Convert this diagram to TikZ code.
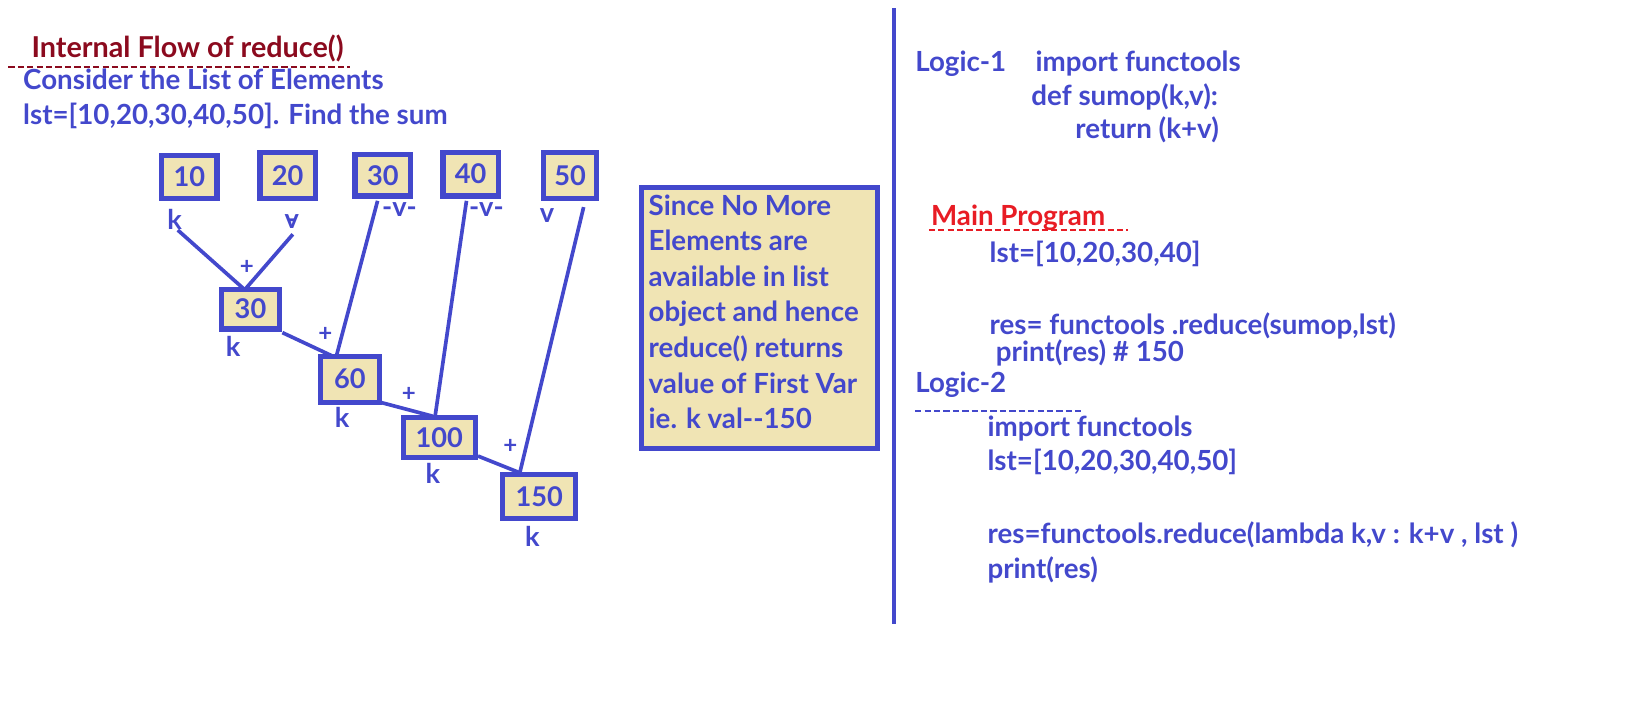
\documentclass[tikz,border=0pt]{standalone}
\usepackage{fontspec}
\setmainfont{Lato}
\definecolor{myblue}{HTML}{4348CC}
\definecolor{myfill}{HTML}{F0E4B4}
\definecolor{dred}{HTML}{8B0A1E}
\definecolor{bred}{HTML}{E81C24}
\tikzset{
  txt/.style={anchor=base west, inner sep=0pt, text=myblue, font=\fontsize{26.5}{30}\selectfont\bfseries},
  numbox/.style={draw=myblue, line width=5pt, fill=myfill, text=myblue, inner sep=0pt, font=\fontsize{26}{30}\selectfont\bfseries},
  lbl/.style={inner sep=0pt, text=myblue, font=\fontsize{26}{30}\selectfont\bfseries},
  plbl/.style={inner sep=0pt, text=myblue, font=\fontsize{23}{26}\selectfont\bfseries},
  conn/.style={draw=myblue, line width=3.5pt},
  uline/.style={line width=1.5pt, dash pattern=on 6pt off 3pt},
}
\begin{document}
\begin{tikzpicture}[x=1pt,y=-1pt]
\useasboundingbox (0,0) rectangle (1568,688.4);
% title
\node[txt, text=dred, font=\fontsize{27.5}{30}\selectfont\bfseries] (title) at (30,55) {Internal Flow of reduce()};
\draw[uline, dred] (8,64) coordinate (u1a) -- (335,64) coordinate (u1b);
\node[txt] (cons) at (22,86) {Consider the List of Elements};
\node[txt] (lst) at (22,119) {lst=[10,20,30,40,50]. Find the sum};
% top boxes
\node[numbox, minimum width=53, minimum height=41] (b10) at (181,169) {10};
\node[numbox, minimum width=53, minimum height=44] (b20) at (275,167.5) {20};
\node[numbox, minimum width=53, minimum height=40] (b30) at (366,167.5) {30};
\node[numbox, minimum width=53, minimum height=42] (b40) at (450,166.5) {40};
\node[numbox, minimum width=51, minimum height=44] (b50) at (545,167.5) {50};
% sum boxes
\node[numbox, minimum width=56, minimum height=38] (s30) at (239.5,295.5) {30};
\node[numbox, minimum width=56, minimum height=44] (s60) at (334.5,362.5) {60};
\node[numbox, minimum width=69, minimum height=38] (s100) at (420,418.5) {100};
\node[numbox, minimum width=70, minimum height=42] (s150) at (515.5,474.5) {150};
% labels
\node[lbl] (lk1) at (167,210) {k};
\node[lbl] (lv2) at (280,212) {-\kern-0.45em v};
\node[lbl] (lv3) at (382,200) {-v-};
\node[lbl] (lv4) at (465,200) {-v-};
\node[lbl] (lv5) at (523,206) {v};
\node[lbl] (lk30) at (223,331) {k};
\node[lbl] (lk60) at (327,399) {k};
\node[lbl] (lk100) at (414,453) {k};
\node[lbl] (lk150) at (509,513) {k};
\node[plbl] (p1) at (236,256) {+};
\node[plbl] (p2) at (311,320) {+};
\node[plbl] (p3) at (391,377) {+};
\node[plbl] (p4) at (488,427) {+};
% connector ends
\coordinate (k1) at (170,220);
\coordinate (v2) at (280,224);
\coordinate (j1) at (234,277);
\coordinate (a30) at (270,318);
\coordinate (j2) at (317,340);
\coordinate (t30) at (361,192);
\coordinate (j2b) at (322,339);
\coordinate (a60) at (365,385);
\coordinate (j3) at (414,398);
\coordinate (t40) at (446,192);
\coordinate (j3b) at (416,398);
\coordinate (a100) at (457,436);
\coordinate (j4) at (497,452);
\coordinate (t50) at (558,198);
\draw[conn] (k1) -- (j1);
\draw[conn] (v2) -- (j1);
\draw[conn] (a30) -- (j2);
\draw[conn] (t30) -- (j2b);
\draw[conn] (a60) -- (j3);
\draw[conn] (t40) -- (j3b);
\draw[conn] (a100) -- (j4);
\draw[conn] (t50) -- (j4);
% explanation box
\node[numbox, minimum width=226, minimum height=250, anchor=north west] (expl) at (610.5,176.5) {};
\node[txt, anchor=north west, align=left, font=\fontsize{26.5}{34}\selectfont\bfseries] (expltxt) at (620,186)
 {Since No More\\Elements are\\available in list\\object and hence\\reduce() returns\\value of First Var\\ie. k val-{}-150};
% divider
\draw[myblue, line width=4pt] (855,8) coordinate (d1) -- (855,597) coordinate (d2);
% right side
\node[txt] (l1) at (875,68) {Logic-1};
\node[txt] (l1a) at (990,68) {import functools};
\node[txt] (l1b) at (986,101) {def sumop(k,v):};
\node[txt] (l1c) at (1028,132) {return (k+v)};
\node[txt, text=bred] (mp) at (890,216) {Main Program};
\draw[uline, bred] (888,220) coordinate (u2a) -- (1078,220) coordinate (u2b);
\node[txt] (m1) at (946,251) {lst=[10,20,30,40]};
\node[txt] (m2) at (946,320) {res= functools .reduce(sumop,lst)};
\node[txt] (m3) at (952,346) {print(res) \# 150};
\node[txt] (l2) at (875,375) {Logic-2};
\draw[uline, myblue] (875,393) coordinate (u3a) -- (1035,393) coordinate (u3b);
\node[txt] (n1) at (944,417) {import functools};
\node[txt] (n2) at (944,450) {lst=[10,20,30,40,50]};
\node[txt] (n3) at (944,520) {res=functools.reduce(lambda k,v : k+v , lst )};
\node[txt] (n4) at (944,553) {print(res)};
\end{tikzpicture}
\end{document}
